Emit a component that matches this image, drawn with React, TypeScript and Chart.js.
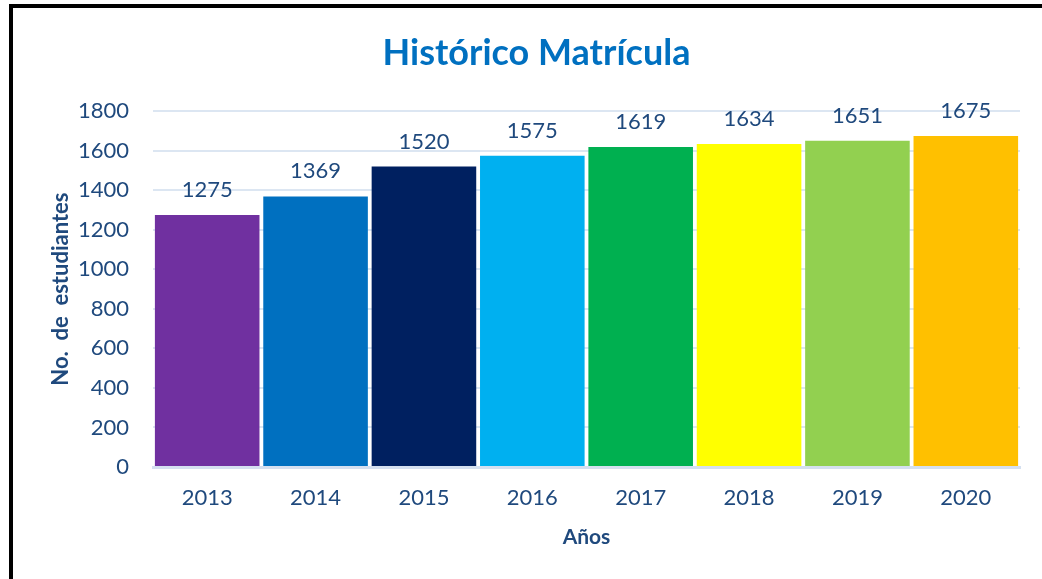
import React, { useEffect, useRef } from "react";
import { Chart, registerables } from "chart.js";

Chart.register(...registerables);

const categories = ["2013", "2014", "2015", "2016", "2017", "2018", "2019", "2020"];
const enrollment = [1275, 1369, 1520, 1575, 1619, 1634, 1651, 1675];
const barColors = ["#7030A0", "#0070C0", "#002060", "#00B0F0", "#00B050", "#FFFF00", "#92D050", "#FFC000"];
const yMax = 1800;
const yStep = 200;

const titleText = "Histórico Matrícula";
const yTitle = "No.  de  estudiantes";
const xTitle = "Años";

const FONT = "Lato, 'Open Sans', sans-serif";
const TEXT = "#1F497D";

const valueLabels = {
  id: "valueLabels",
  afterDatasetsDraw(chart: any) {
    const ctx = chart.ctx;
    const meta = chart.getDatasetMeta(0);
    ctx.save();
    ctx.font = `22px ${FONT}`;
    ctx.fillStyle = TEXT;
    ctx.textAlign = "center";
    ctx.textBaseline = "middle";
    meta.data.forEach((bar: any, i: number) => {
      ctx.fillText(String(enrollment[i]), bar.x, bar.y - 25);
    });
    ctx.restore();
  },
};

export default function App() {
  const ref = useRef<HTMLCanvasElement | null>(null);
  useEffect(() => {
    if (!ref.current) return;
    const chart = new Chart(ref.current, {
      type: "bar",
      data: {
        labels: categories,
        datasets: [
          {
            data: enrollment,
            backgroundColor: barColors,
            borderWidth: 0,
            barPercentage: 0.965,
            categoryPercentage: 1,
            yAxisID: "y",
          },
        ],
      },
      options: {
        animation: false,
        responsive: false,
        maintainAspectRatio: false,
        layout: { padding: { left: 20, right: 2, top: 0, bottom: 0 } },
        plugins: {
          legend: { display: false },
          tooltip: { enabled: false },
          title: {
            display: true,
            text: titleText,
            color: "#0070C0",
            font: { family: FONT, size: 36, weight: "bold" },
            padding: { top: 24, bottom: 36 },
          },
        },
        scales: {
          x: {
            afterFit: (s: any) => {
              s.height = 112;
            },
            grid: { display: false, drawTicks: false },
            border: { display: true, color: "#D5E0F0", width: 3 },
            ticks: { color: TEXT, font: { family: FONT, size: 22 }, padding: 18 },
            title: {
              display: true,
              text: xTitle,
              color: TEXT,
              font: { family: FONT, size: 21, weight: "bold" },
              padding: { top: 0, bottom: 29 },
            },
          },
          y: {
            min: 0,
            max: yMax,
            afterFit: (s: any) => {
              s.width = 120;
            },
            grid: { color: "#DCE6F2", lineWidth: 2, drawTicks: false },
            border: { display: false },
            ticks: {
              stepSize: yStep,
              color: TEXT,
              font: { family: FONT, size: 22 },
              padding: 24,
              callback: (v: any) => String(v),
            },
            title: {
              display: true,
              text: yTitle,
              color: TEXT,
              font: { family: FONT, size: 22, weight: "bold" },
              padding: { top: 15, bottom: 0 },
            },
          },
          spacer: {
            type: "linear",
            position: "right",
            display: true,
            afterFit: (s: any) => {
              s.width = 20;
            },
            grid: { display: false, drawTicks: false },
            border: { display: false },
            ticks: { display: false },
          },
        },
      },
      plugins: [valueLabels],
    });
    return () => chart.destroy();
  }, []);

  return (
    <div style={{ position: "fixed", left: 0, top: 0, width: 1042, height: 579, overflow: "hidden", background: "#fff" }}>
      <div
        style={{
          position: "absolute",
          left: 9,
          top: 4,
          width: 1040,
          height: 600,
          borderLeft: "4px solid #000",
          borderTop: "4px solid #000",
        }}
      >
        <canvas ref={ref} width={1029} height={571} style={{ display: "block", width: 1029, height: 571 }} />
      </div>
    </div>
  );
}
